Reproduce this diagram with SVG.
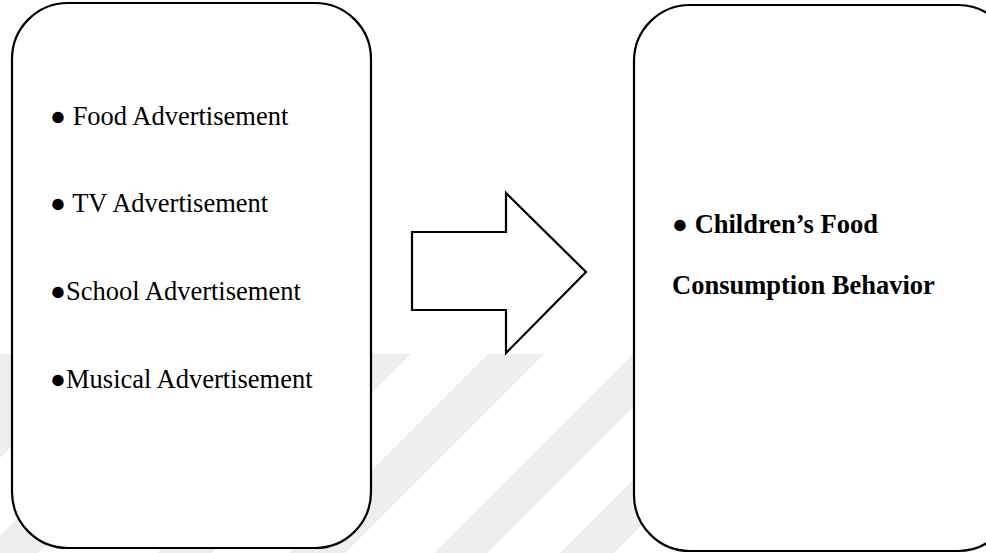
<svg xmlns="http://www.w3.org/2000/svg" width="986" height="553" viewBox="0 0 986 553">
  <style>
    .box { fill: #ffffff; stroke: #000000; stroke-width: 2.2; }
    .arrow { fill: #ffffff; stroke: #000000; stroke-width: 2.2; stroke-linejoin: miter; }
    .t { font-family: "Liberation Serif", "Times New Roman", serif; font-size: 26.5px; fill: #000000; }
    .b { font-weight: bold; }
    .wm { fill: #eeeeee; }
  </style>
  <defs>
    <clipPath id="wmclip">
      <rect x="0" y="354" width="986" height="199"/>
    </clipPath>
  </defs>
  <rect width="986" height="553" fill="#ffffff"/>
  <g id="watermark" clip-path="url(#wmclip)">
    <polygon class="wm" points="0,354 104,354 -96,554 -200,554"/>
    <polygon class="wm" points="182,354 237,354 37,554 -18,554"/>
    <polygon class="wm" points="356,354 411,354 211,554 156,554"/>
    <polygon class="wm" points="488,354 544,354 344,554 288,554"/>
    <polygon class="wm" points="633,354 686,354 486,554 433,554"/>
    <polygon class="wm" points="759,354 813,354 613,554 559,554"/>
  </g>
  <g id="node-causes">
    <rect class="box" x="12" y="3" width="359" height="545" rx="56" ry="56"/>
    <text class="t" x="50" y="125">● Food Advertisement</text>
    <text class="t" x="50" y="212">● TV Advertisement</text>
    <text class="t" x="50" y="300">●School Advertisement</text>
    <text class="t" x="50" y="388">●Musical Advertisement</text>
  </g>
  <g id="connectors">
    <polygon class="arrow" points="412,232 506,232 506,193 586,272 506,353 506,310 412,310"/>
  </g>
  <g id="node-effect">
    <rect class="box" x="634" y="5" width="380" height="546" rx="56" ry="56"/>
    <text class="t b" x="672" y="233">● Children’s Food</text>
    <text class="t b" x="672" y="294">Consumption Behavior</text>
  </g>
</svg>
